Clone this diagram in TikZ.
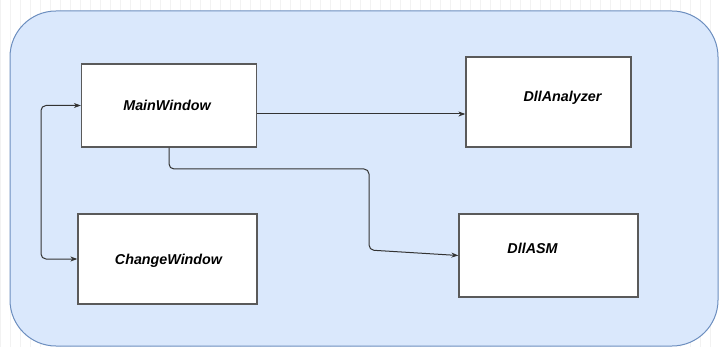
\documentclass[tikz,border=0pt]{standalone}
\usepackage{fontspec}
\setmainfont{Liberation Sans}
\usepackage{tikz}
\usetikzlibrary{calc,arrows.meta}
\definecolor{panelfill}{HTML}{DAE8FC}
\definecolor{paneledge}{HTML}{6C8EBF}
\definecolor{boxedge}{HTML}{5A5A5A}
\definecolor{linkcol}{HTML}{333333}

\begin{document}
\begin{tikzpicture}[x=1pt, y=-1pt,
    classbox/.style={draw=boxedge, fill=white, line width=1.3pt, inner sep=0pt},
    classtext/.style={font=\bfseries\itshape\fontsize{14.3}{17}\selectfont},
    link/.style={draw=linkcol, line width=1pt, rounded corners=5pt, -{Stealth[length=7pt,width=5pt]}}]
            \useasboundingbox (0,0) rectangle (719,347);
            \draw[black!5, step=10] (0,0) grid (719,347); %faint page grid
            \draw[draw=paneledge, fill=panelfill, line width=1pt, rounded corners=46pt] (10,11) rectangle (718,346);

            % classes
            \node[classbox, minimum width=175pt, minimum height=83pt,
                  label={[classtext, xshift=-2pt]center:MainWindow}] (mainwin) at (169,105.5) {};
            \node[classbox, minimum width=179pt, minimum height=90pt,
                  label={[classtext, xshift=1pt, yshift=-2pt]center:ChangeWindow}] (changewin) at (167.5,259) {};
            \node[classbox, minimum width=165pt, minimum height=90pt,
                  label={[classtext, xshift=14pt, yshift=4pt]center:DllAnalyzer}] (dllan) at (548.5,102) {};
            \node[classbox, minimum width=179pt, minimum height=83pt,
                  label={[classtext, xshift=-16pt, yshift=7pt]center:DllASM}] (dllasm) at (548.5,255.5) {};

            % routing points
            \coordinate (rowA) at (0,114);
            \coordinate (leftrail) at (41,0);
            \coordinate (bendA) at (369,169);
            \coordinate (bendB) at (369,250);

            % connectors
            \draw[link] (mainwin.east |- rowA) -- (dllan.west |- rowA);
            \draw[link, {Stealth[length=7pt,width=5pt]}-{Stealth[length=7pt,width=5pt]}]
                (mainwin.west) -- (mainwin.west -| leftrail) -- (changewin.west -| leftrail) -- (changewin.west);
            \draw[link] (mainwin.south) -- (mainwin.south |- bendA) -- (bendA) -- (bendB) -- (dllasm.west);

          \end{tikzpicture}
\end{document}
